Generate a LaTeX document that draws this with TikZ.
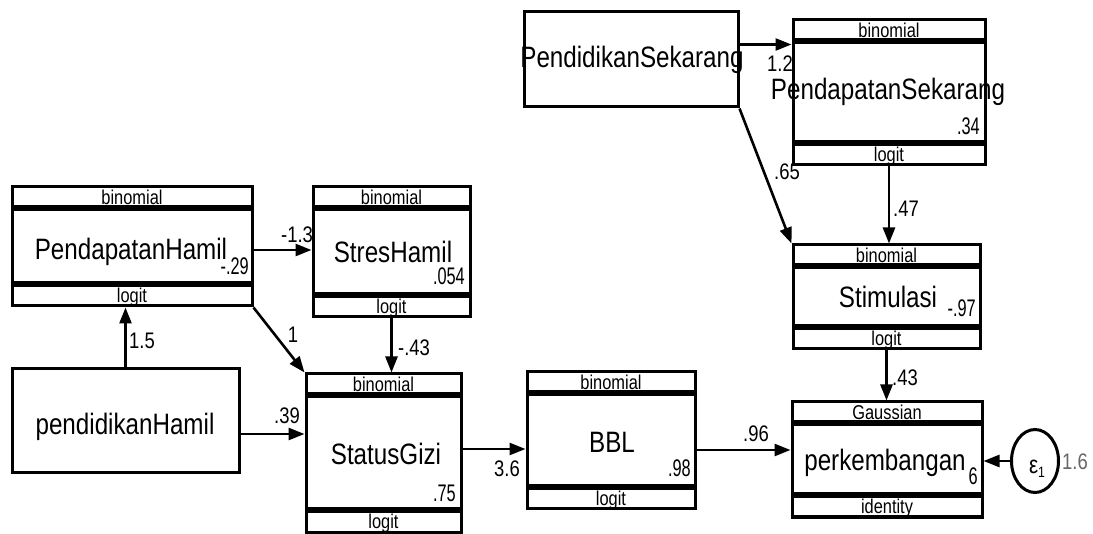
\documentclass[tikz,border=0pt]{standalone}
\usepackage{fontspec}
\setmainfont{Liberation Sans}[FakeStretch=0.82]
\newfontfamily\valfont{Liberation Sans}[FakeStretch=0.68]
\usetikzlibrary{arrows.meta,shapes.geometric}
\newcommand\gbars[3]{%
  \fill[black] ([yshift=-20pt]#1.north west) rectangle ([yshift=-26pt]#1.north east);
  \fill[black] ([yshift=20pt]#1.south west) rectangle ([yshift=26pt]#1.south east);
  \node[small, anchor=base] (#1-top) at ([yshift=-19.5pt]#1.north) {#2};
  \node[small, anchor=base] (#1-bot) at ([yshift=5pt]#1.south) {#3};
}
\begin{document}
\begin{tikzpicture}[x=1pt,y=-1pt,
  box/.style={draw, line width=3pt, inner sep=0pt, fill=white},
  main/.style={font=\fontsize{29.5}{30}\selectfont, inner sep=0pt, anchor=base},
  val/.style={font=\valfont\fontsize{24}{24}\selectfont, inner sep=0pt, anchor=base east},
  elab/.style={font=\fontsize{22.5}{22}\selectfont, inner sep=0pt, anchor=base},
  small/.style={font=\fontsize{20}{20}\selectfont, inner sep=0pt},
  arr/.style={line width=2.6pt, -{Triangle[length=16pt,width=12pt]}}]
\useasboundingbox (0,0) rectangle (1093,534);

% boxes
\node[box, minimum width=240, minimum height=119] (ph) at (132,246.5) {};
\node[box, minimum width=157, minimum height=130] (sh) at (391.5,252) {};
\node[box, minimum width=227, minimum height=104] (pH) at (125.5,421) {};
\node[box, minimum width=155, minimum height=158] (sg) at (383.5,453) {};
\node[box, minimum width=168, minimum height=137] (bbl) at (611,440.5) {};
\node[box, minimum width=190, minimum height=115] (perk) at (887,459.5) {};
\node[box, minimum width=214, minimum height=95] (ps) at (631,59.5) {};
\node[box, minimum width=192, minimum height=145] (pds) at (889,92.5) {};
\node[box, minimum width=187, minimum height=104] (st) at (886.5,297) {};
\node[draw, ellipse, line width=3pt, inner sep=0pt, minimum width=47, minimum height=63] (eps) at (1035,461) {};

\gbars{ph}{binomial}{logit}
\gbars{sh}{binomial}{logit}
\gbars{sg}{binomial}{logit}
\gbars{bbl}{binomial}{logit}
\gbars{perk}{Gaussian}{identity}
\gbars{pds}{binomial}{logit}
\gbars{st}{binomial}{logit}

% main texts
\node[main] (ph-t) at (131,260) {PendapatanHamil};
\node[main] (sh-t) at (393,263) {StresHamil};
\node[main] (pH-t) at (125,435) {pendidikanHamil};
\node[main] (sg-t) at (386,465) {StatusGizi};
\node[main] (bbl-t) at (612,453) {BBL};
\node[main] (perk-t) at (885,471) {perkembangan};
\node[main] (ps-t) at (632,68) {PendidikanSekarang};
\node[main] (pds-t) at (888,100) {PendapatanSekarang};
\node[main] (st-t) at (888,308) {Stimulasi};
\node[font=\fontsize{25}{25}\selectfont, inner sep=0pt, anchor=base] (eps-t) at (1037,474) {ε\raisebox{-4pt}{\fontsize{15}{15}\selectfont 1}};

% values
\node[val] (ph-v) at (249,275) {-.29};
\node[val] (sh-v) at (465,285) {.054};
\node[val] (sg-v) at (456,502) {.75};
\node[val] (bbl-v) at (691,477) {.98};
\node[val] (perk-v) at (978,485) {6};
\node[val] (pds-v) at (980,135) {.34};
\node[val] (st-v) at (976,317) {-.97};

% connectors
\draw[arr] ([yshift=-3.5pt]ph.east) -- ([yshift=-3.5pt]ph.east -| sh.west);
\draw[arr] (pH.north) -- (pH.north |- ph.south);
\draw[arr] (ph.south east) -- (sg.north west);
\draw[arr] ([yshift=-13pt]pH.east) -- ([yshift=-13pt]pH.east -| sg.west);
\draw[arr] (sh.south) -- (sh.south |- sg.north);
\draw[arr] ([yshift=4pt]sg.east) -- ([yshift=4pt]sg.east -| bbl.west);
\draw[arr] ([yshift=-9.5pt]bbl.east) -- ([yshift=-9.5pt]bbl.east -| perk.west);
\draw[arr] (eps.west) -- (eps.west -| perk.east);
\draw[arr] (st.south) -- (st.south |- perk.north);
\draw[arr] (pds.south) -- (pds.south |- st.north);
\draw[arr] (ps.south east) -- (st.north west);
\draw[arr] ([yshift=15pt]ps.east) -- ([yshift=15pt]ps.east -| pds.west);

% edge labels
\node[elab] (l1) at (297,243) {-1.3};
\node[elab] (l2) at (142,349) {1.5};
\node[elab] (l3) at (293,343) {1};
\node[elab] (l4) at (287,424) {.39};
\node[elab] (l5) at (414,356) {-.43};
\node[elab] (l6) at (507,477) {3.6};
\node[elab] (l7) at (756,442) {.96};
\node[elab] (l8) at (905,386) {.43};
\node[elab] (l9) at (906,217) {.47};
\node[elab] (l10) at (787,180) {.65};
\node[elab] (l11) at (780,72) {1.2};
\node[elab, text=black!60] (l12) at (1075,470) {1.6};
\end{tikzpicture}
\end{document}
